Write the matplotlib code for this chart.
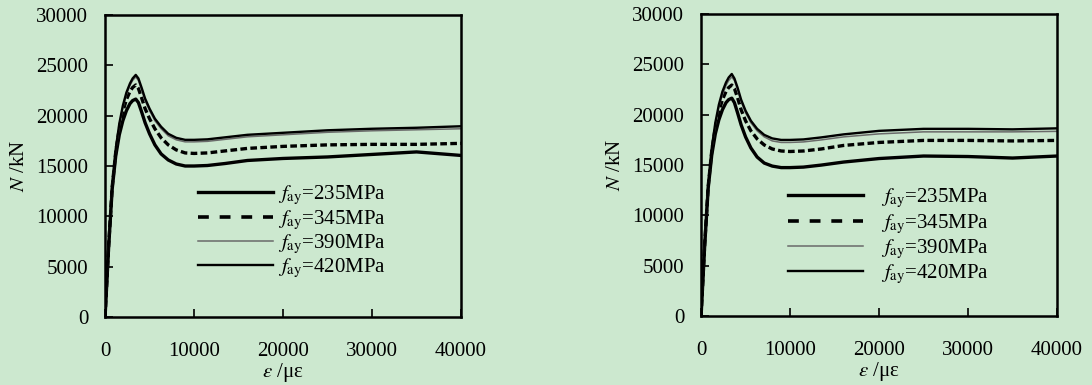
import matplotlib
matplotlib.use("Agg")
import matplotlib.pyplot as plt
from matplotlib.lines import Line2D

# ---- data ----
strain = [0, 400, 800, 1200, 1600, 2000, 2400, 2800, 3100, 3450, 3750, 4100, 4500, 5000,
          5600, 6300, 7100, 8000, 9000, 10000, 11500, 13500, 16000, 20000, 25000, 30000,
          35000, 40000]

left_235 = [0, 6900, 12700, 16000, 18100, 19500, 20500, 21200, 21500, 21650, 21300, 20400, 19300, 18200,
            17100, 16200, 15600, 15200, 15000, 15000, 15050, 15250, 15550, 15750, 15900, 16150, 16400, 16050]
left_345 = [0, 7000, 12900, 16400, 18700, 20400, 21600, 22400, 22800, 23050, 22700, 21800, 20700, 19700,
            18700, 17800, 17100, 16600, 16300, 16250, 16300, 16500, 16750, 16950, 17100, 17150, 17150, 17250]
left_390 = [0, 7000, 13000, 16600, 19000, 20800, 22100, 23000, 23500, 23850, 23500, 22600, 21500, 20500,
            19500, 18700, 18000, 17600, 17400, 17400, 17450, 17650, 17900, 18100, 18350, 18500, 18600, 18700]
left_420 = [0, 7000, 13000, 16700, 19200, 21000, 22300, 23200, 23700, 24050, 23700, 22800, 21700, 20700,
            19700, 18900, 18200, 17800, 17600, 17600, 17650, 17850, 18100, 18300, 18550, 18700, 18800, 18950]

right_235 = [0, 6900, 12700, 16000, 18100, 19500, 20500, 21200, 21500, 21650, 21200, 20200, 19000, 17800,
             16700, 15800, 15200, 14900, 14750, 14750, 14800, 15000, 15300, 15650, 15900, 15850, 15700, 15900]
right_345 = [0, 7000, 12900, 16400, 18700, 20300, 21500, 22300, 22700, 22950, 22600, 21700, 20500, 19400,
             18400, 17600, 17000, 16600, 16400, 16350, 16400, 16600, 16950, 17250, 17450, 17450, 17400, 17450]
right_390 = [0, 7000, 13000, 16600, 19000, 20800, 22000, 22900, 23400, 23750, 23400, 22500, 21300, 20200,
             19200, 18400, 17800, 17400, 17250, 17250, 17300, 17500, 17800, 18100, 18300, 18300, 18300, 18350]
right_420 = [0, 7000, 13000, 16700, 19200, 21000, 22300, 23200, 23700, 24050, 23600, 22700, 21500, 20400,
             19400, 18600, 18000, 17650, 17500, 17500, 17550, 17750, 18050, 18400, 18600, 18600, 18550, 18650]

series_labels = ["235", "345", "390", "420"]
x_ticks = [0, 10000, 20000, 30000, 40000]
y_ticks = [0, 5000, 10000, 15000, 20000, 25000, 30000]

# ---- style ----
BG = "#cce8cf"
plt.rcParams["font.family"] = ["Liberation Serif", "DejaVu Serif"]
plt.rcParams["mathtext.fontset"] = "stix"
FS = 15

styles = [
    dict(color="black", lw=2.4, ls="-"),
    dict(color="black", lw=2.4, ls=(0, (2.0, 1.0))),
    dict(color="#6a6a6a", lw=1.1, ls="-"),
    dict(color="black", lw=1.7, ls="-"),
]
legend_styles = [
    dict(color="black", lw=2.4, ls="-"),
    dict(color="black", lw=2.6, ls=(0, (3.0, 3.0))),
    dict(color="#6a6a6a", lw=1.1, ls="-"),
    dict(color="black", lw=1.7, ls="-"),
]

fig = plt.figure(figsize=(10.92, 3.85), dpi=100, facecolor=BG)
axL = fig.add_axes([0.0962, 0.1766, 0.326, 0.7844])
axR = fig.add_axes([0.642, 0.179, 0.326, 0.7844])

panels = [
    (axL, [left_235, left_345, left_390, left_420], 0.28, (0.26, 0.44), 0.05),
    (axR, [right_235, right_345, right_390, right_420], 0.85, (0.244, 0.427), 0.1),
]

for ax, data, pad, anchor, spacing in panels:
    ax.set_facecolor(BG)
    for ys, st in zip(data, styles):
        ax.plot(strain, ys, solid_capstyle="butt", dash_capstyle="butt",
                solid_joinstyle="round", **st)
    ax.set_xlim(0, 40000)
    ax.set_ylim(0, 30000)
    ax.set_xticks(x_ticks)
    ax.set_yticks(y_ticks)
    ax.tick_params(direction="in", length=6, width=1.2, labelsize=FS,
                   top=False, right=False)
    ax.tick_params(axis="x", pad=18)
    ax.tick_params(axis="y", pad=12)
    for s in ax.spines.values():
        s.set_linewidth(1.8)
    ax.set_xlabel(r"$\varepsilon$ /με", fontsize=FS, labelpad=0)
    ax.set_ylabel(r"$N$ /kN", fontsize=FS, labelpad=5)
    handles = [Line2D([0], [0], **st) for st in legend_styles]
    labels = [r"$f_{\mathrm{ay}}$=" + s + "MPa" for s in series_labels]
    ax.legend(handles, labels, loc="upper left", bbox_to_anchor=anchor,
              frameon=False, fontsize=FS, handlelength=3.6, handletextpad=pad,
              labelspacing=spacing, borderpad=0, borderaxespad=0)

fig.savefig("out.png", dpi=100, facecolor=BG)
